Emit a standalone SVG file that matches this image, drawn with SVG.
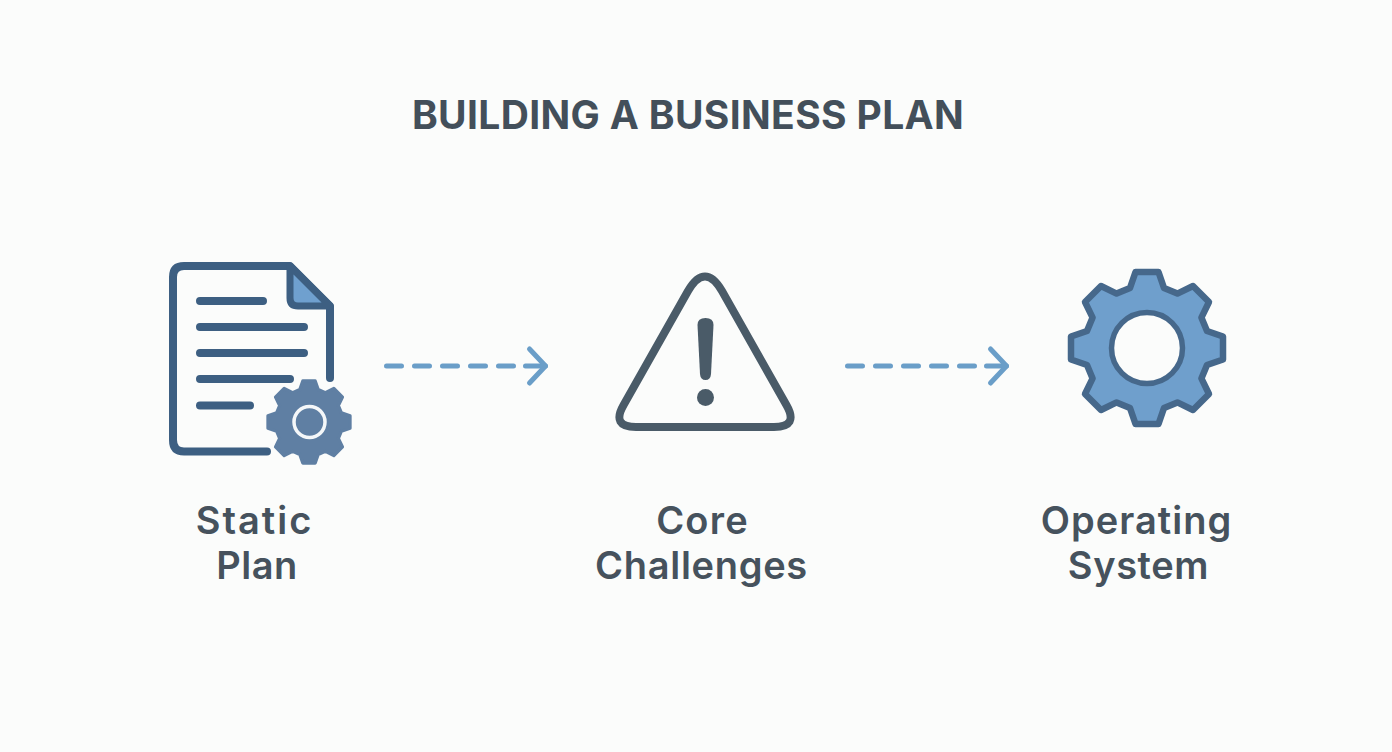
<svg xmlns="http://www.w3.org/2000/svg" width="1392" height="752" viewBox="0 0 1392 752">
<style>
text{font-family:Inter,"Liberation Sans",sans-serif;font-weight:600;fill:#46525d;text-anchor:middle}
.title{font-size:39px;font-weight:700;fill:#434f5a;letter-spacing:.35px}
.label{font-size:38px}
.ln{fill:none;stroke:#3d5f82;stroke-width:8;stroke-linecap:round;stroke-linejoin:round}
.dash{fill:none;stroke:#6a9ec8;stroke-width:5;stroke-linecap:round;stroke-linejoin:round}
</style>
<defs>
<path id="gear" d="M-17-60L-11.500-76L11.500-76L17-60L30.400-54.400L46-62L62-46L54.400-30.400L60-17L76-11.500L76 11.500L60 17L54.400 30.400L62 46L46 62L30.400 54.400L17 60L11.500 76L-11.500 76L-17 60L-30.400 54.400L-46 62L-62 46L-54.400 30.400L-60 17L-76 11.500L-76-11.500L-60-17L-54.400-30.400L-62-46L-46-62L-30.400-54.400Z" stroke-linejoin="round"/>
<g id="arrow" class="dash"><path d="M2.500 0H17.500M30.500 0H45.500M58.500 0H73.500M86.500 0H101.500M114.500 0H129.500M141.500 0H161.500"/><path d="M145.500-17L161.500 0L145.500 17"/></g>
</defs>
<rect width="1392" height="752" fill="#fbfcfb"/>
<text id="title" class="title" x="688" y="129">BUILDING A BUSINESS PLAN</text>
<g id="connectors">
<use href="#arrow" x="384" y="366"/>
<use href="#arrow" x="845" y="366"/>
</g>
<g id="static-plan">
<path class="ln" d="M267 451.500H184Q173 451.500 173 440V277Q173 266 184 266H290L330 306V378"/>
<path d="M290 266L330 306H298Q290 306 290 298Z" fill="#6fa0cf" stroke="#3d5f82" stroke-width="7" stroke-linejoin="round"/>
<path class="ln" d="M200 301H263M200 327H304M200 353H304M200 379H290M200 405.500H250"/>
<use href="#gear" transform="translate(309 422) scale(.54)" fill="#5f7fa3" stroke="#5f7fa3" stroke-width="6"/>
<circle cx="309.500" cy="422" r="15.500" fill="#5f7fa3" stroke="#f4f7f9" stroke-width="3.500"/>
<text class="label" x="254.500" y="534" letter-spacing="2">Static</text>
<text class="label" x="257" y="579" letter-spacing=".5">Plan</text>
</g>
<g id="core-challenges">
<path d="M688 291Q705 262 722 291L786.400 405Q799 427 774 427H636Q611 427 623.600 405Z" fill="none" stroke="#4a5b68" stroke-width="8" stroke-linejoin="round"/>
<path d="M697.500 325Q697.500 318 705.500 318Q713.500 318 713.500 325L711 374Q710.500 380 705.500 380Q700.500 380 700 374Z" fill="#4a5b68"/>
<circle cx="705.500" cy="397.500" r="8.500" fill="#4a5b68"/>
<text class="label" x="702.500" y="534" letter-spacing="1.200">Core</text>
<text class="label" x="701.500" y="579" letter-spacing=".7">Challenges</text>
</g>
<g id="operating-system">
<use href="#gear" transform="translate(1147 348)" fill="#6f9fcc" stroke="#46688b" stroke-width="6.500"/>
<circle cx="1147" cy="348" r="35.500" fill="#fbfcfb" stroke="#46688b" stroke-width="5.500"/>
<text class="label" x="1136.500" y="534" letter-spacing="1">Operating</text>
<text class="label" x="1138.500" y="579" letter-spacing=".6">System</text>
</g>
</svg>
